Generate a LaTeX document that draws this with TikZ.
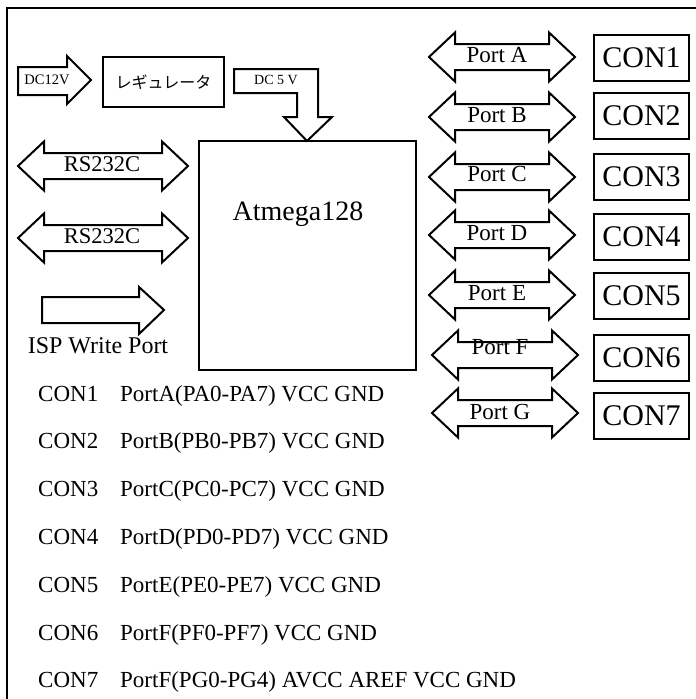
\documentclass[tikz,border=0pt]{standalone}
\usepackage{fontspec}
\setmainfont{Liberation Serif}
\newfontfamily\jpfont{Noto Sans CJK JP}
\tikzset{
    every picture/.append style={x=1pt, y=-1pt},
    fatarrow/.style={draw, line width=2pt, fill=white, line join=miter},
    conbox/.style={draw, line width=2pt, minimum width=95pt, minimum height=46pt,
        inner sep=0pt, font=\fontsize{30}{34}\selectfont},
    txt/.style={inner sep=0pt}
}
% double arrow: x1, x2, y
\newcommand{\dblarrow}[3]{%
  \draw[fatarrow] (#1,#3) -- ({#1+26},{#3-24.5}) -- ({#1+26},{#3-13})
    -- ({#2-26},{#3-13}) -- ({#2-26},{#3-24.5}) -- (#2,#3)
    -- ({#2-26},{#3+24.5}) -- ({#2-26},{#3+13}) -- ({#1+26},{#3+13})
    -- ({#1+26},{#3+24.5}) -- cycle;}

\begin{document}
\begin{tikzpicture}
  \useasboundingbox (0,0) rectangle (696,699);
  \draw[line width=2pt] (696,8) -- (7,8) -- (7,699);

  % power
  \draw[fatarrow] (18,67) -- (67,67) -- (67,56) -- (91,80) -- (67,104)
    -- (67,95) -- (18,95) -- cycle;
  \node (dc12) [txt, font=\fontsize{14.5}{16}\selectfont] at (47,80) {DC12V};
  \node (reg) [draw, line width=2pt, minimum width=121pt, minimum height=50pt,
    font=\jpfont\fontsize{16}{18}\selectfont] at (163.5,82) {レギュレータ};
  \draw[fatarrow] (234,69) -- (318,69) -- (318,117) -- (332,117) -- (307,141)
    -- (284,117) -- (297,117) -- (297,93) -- (234,93) -- cycle;
  \node (dc5) [txt, font=\fontsize{14}{16}\selectfont] at (276,80) {DC 5 V};

  % cpu
  \node (mcu) [draw, line width=2pt, minimum width=217pt, minimum height=229pt,
    inner sep=0pt] at (307.5,255.5) {};
  \node (mcutxt) [txt, font=\fontsize{28}{32}\selectfont] at (298,214) {Atmega128};

  % left side
  \dblarrow{18}{188}{166}
  \node (rs1) [txt, font=\fontsize{22.5}{26}\selectfont] at (102,164) {RS232C};
  \dblarrow{18}{188}{238}
  \node (rs2) [txt, font=\fontsize{22.5}{26}\selectfont] at (102,236) {RS232C};
  \draw[fatarrow] (42,297) -- (139,297) -- (139,287) -- (164,310) -- (139,334)
    -- (139,323) -- (42,323) -- cycle;
  \node (isp) [txt, font=\fontsize{24}{28}\selectfont] at (98,346) {ISP Write Port};

  % ports and connectors
  \foreach \i/\p/\ya/\yt/\xa/\yc in {1/A/57/55/429/58, 2/B/117/115/429/116,
      3/C/177/174/429/176.5, 4/D/235/233/429/237, 5/E/295/293/429/296,
      6/F/355/347/432/357.5, 7/G/413/412/432/415.5} {
    \dblarrow{\xa}{\xa+146}{\ya}
    \node (port\p) [txt, font=\fontsize{23}{26}\selectfont] at (\xa+68,\yt) {Port \p};
    \node (con\i) [conbox] at (641.5,\yc) {CON\i};
  }

  % pin list
  \foreach \i/\pins in {1/{PortA(PA0-PA7) VCC GND}, 2/{PortB(PB0-PB7) VCC GND},
      3/{PortC(PC0-PC7) VCC GND}, 4/{PortD(PD0-PD7) VCC GND},
      5/{PortE(PE0-PE7) VCC GND}, 6/{PortF(PF0-PF7) VCC GND},
      7/{PortF(PG0-PG4) AVCC AREF VCC GND}} {
    \node (lst\i) [txt, anchor=base west, font=\fontsize{23}{26}\selectfont]
      at (38,{401+47.8*(\i-1)}) {CON\i};
    \node (pins\i) [txt, anchor=base west, font=\fontsize{23}{26}\selectfont]
      at (120,{401+47.8*(\i-1)}) {\pins};
  }
\end{tikzpicture}
\end{document}
